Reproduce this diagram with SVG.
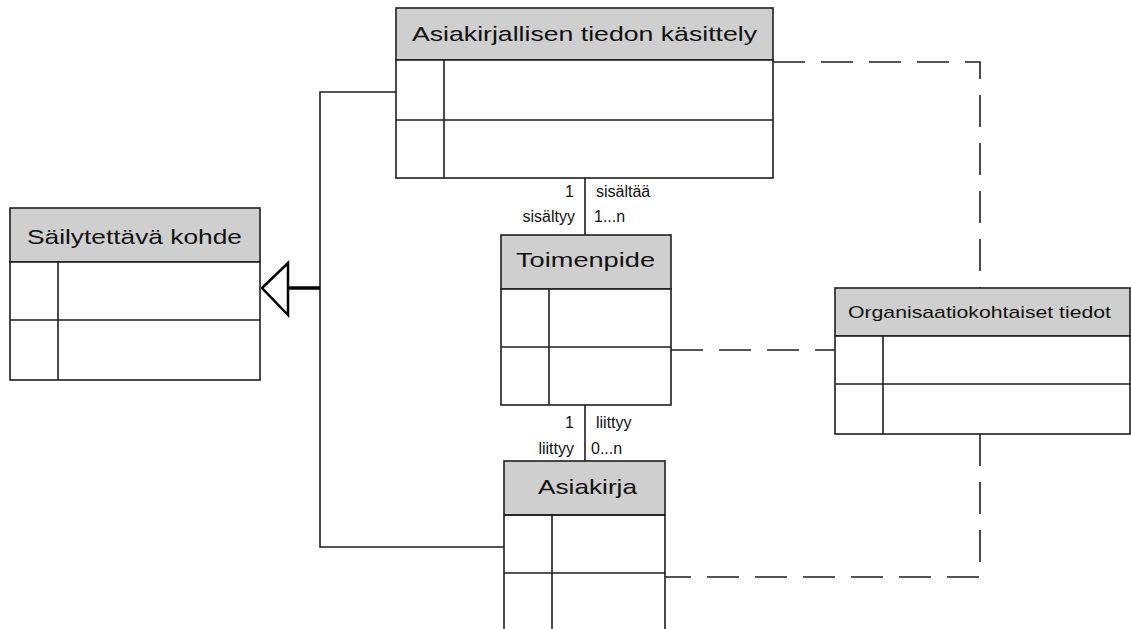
<svg xmlns="http://www.w3.org/2000/svg" width="1131" height="629" viewBox="0 0 1131 629">
<style>
.box{fill:#ffffff;stroke:#1e1e1e;stroke-width:1.6}
.hdr{fill:#cfcfcf;stroke:#1e1e1e;stroke-width:1.6}
.ln{stroke:#1e1e1e;stroke-width:1.6;fill:none}
.dash{stroke:#1e1e1e;stroke-width:1.6;fill:none;stroke-dasharray:32 16}
.t{font-family:"Liberation Sans",Arial,sans-serif;font-size:21px;fill:#111;text-anchor:middle}
.ts{font-family:"Liberation Sans",Arial,sans-serif;font-size:17px;fill:#111;text-anchor:middle}
.lb{font-family:"Liberation Sans",Arial,sans-serif;font-size:16px;fill:#111}
</style>
<rect width="1131" height="629" fill="#ffffff"/>
<g id="connectors">
  <path class="ln" d="M396,92 H320 V547 H504"/>
  <line x1="288" y1="288" x2="320" y2="288" stroke="#000" stroke-width="3.5"/>
  <polygon points="262,288 288,263 288,315" fill="#ffffff" stroke="#000" stroke-width="2.5"/>
  <line class="ln" x1="585" y1="178" x2="585" y2="235"/>
  <line class="ln" x1="585" y1="405" x2="585" y2="461"/>
  <path class="dash" d="M773,62 H980 V288"/>
  <path class="dash" d="M671,350 H835"/>
  <path class="dash" d="M980,434 V577 H665"/>
  <text class="lb" x="574" y="197" text-anchor="end">1</text>
  <text class="lb" x="575" y="222" text-anchor="end">sisältyy</text>
  <text class="lb" x="596" y="197">sisältää</text>
  <text class="lb" x="594" y="222">1...n</text>
  <text class="lb" x="574" y="428" text-anchor="end">1</text>
  <text class="lb" x="574" y="454" text-anchor="end">liittyy</text>
  <text class="lb" x="596" y="428">liittyy</text>
  <text class="lb" x="591" y="454">0...n</text>
</g>
<g id="node-asiakirjallisen">
  <rect class="hdr" x="396" y="8" width="377" height="52"/>
  <rect class="box" x="396" y="60" width="377" height="118"/>
  <line class="ln" x1="396" y1="120" x2="773" y2="120"/>
  <line class="ln" x1="444" y1="60" x2="444" y2="178"/>
  <text class="t" x="584.5" y="41" textLength="345" lengthAdjust="spacingAndGlyphs">Asiakirjallisen tiedon käsittely</text>
</g>
<g id="node-sailytettava">
  <rect class="hdr" x="10" y="208" width="250" height="54"/>
  <rect class="box" x="10" y="262" width="250" height="118"/>
  <line class="ln" x1="10" y1="320" x2="260" y2="320"/>
  <line class="ln" x1="58" y1="262" x2="58" y2="380"/>
  <text class="t" x="134.5" y="244" textLength="215" lengthAdjust="spacingAndGlyphs">Säilytettävä kohde</text>
</g>
<g id="node-toimenpide">
  <rect class="hdr" x="501" y="235" width="170" height="54"/>
  <rect class="box" x="501" y="289" width="170" height="116"/>
  <line class="ln" x1="501" y1="347" x2="671" y2="347"/>
  <line class="ln" x1="549" y1="289" x2="549" y2="405"/>
  <text class="t" x="585.5" y="267" textLength="139" lengthAdjust="spacingAndGlyphs">Toimenpide</text>
</g>
<g id="node-asiakirja">
  <rect class="hdr" x="504" y="461" width="161" height="54"/>
  <path class="ln" d="M504,515 V640 M665,515 V640"/>
  <line class="ln" x1="504" y1="515" x2="665" y2="515"/>
  <line class="ln" x1="504" y1="573" x2="665" y2="573"/>
  <line class="ln" x1="552" y1="515" x2="552" y2="640"/>
  <text class="t" x="587.5" y="494" textLength="99" lengthAdjust="spacingAndGlyphs">Asiakirja</text>
</g>
<g id="node-organisaatio">
  <rect class="hdr" x="835" y="288" width="295" height="48"/>
  <rect class="box" x="835" y="336" width="295" height="98"/>
  <line class="ln" x1="835" y1="384" x2="1130" y2="384"/>
  <line class="ln" x1="883" y1="336" x2="883" y2="434"/>
  <text class="ts" x="979.5" y="318" textLength="263" lengthAdjust="spacingAndGlyphs">Organisaatiokohtaiset tiedot</text>
</g>
</svg>
